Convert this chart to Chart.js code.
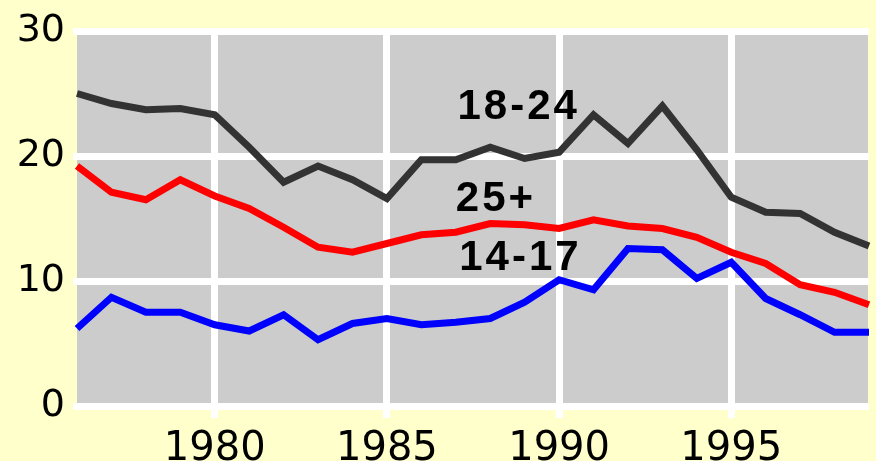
<!DOCTYPE html>
<html>
<head>
<meta charset="utf-8">
<script src="https://cdn.jsdelivr.net/npm/chart.js@4/dist/chart.umd.min.js"></script>
<style>
    html, body { margin: 0; padding: 0; background: #ffffcc; }
    #wrap { width: 876px; height: 461px; }
</style>
</head>
<body>
<div id="wrap"><canvas id="chart"></canvas></div>
<script>
// Data
const years = [1976, 1977, 1978, 1979, 1980, 1981, 1982, 1983, 1984, 1985, 1986, 1987,
               1988, 1989, 1990, 1991, 1992, 1993, 1994, 1995, 1996, 1997, 1998, 1999];
const age18to24 = [25.0, 24.2, 23.7, 23.8, 23.3, 20.7, 17.9, 19.2, 18.1, 16.6, 19.7, 19.7,
                   20.7, 19.8, 20.3, 23.3, 21.0, 24.0, 20.5, 16.7, 15.5, 15.4, 13.9, 12.8];
const age25plus = [19.2, 17.1, 16.5, 18.1, 16.8, 15.8, 14.3, 12.7, 12.3, 13.0, 13.7, 13.9,
                   14.6, 14.5, 14.2, 14.9, 14.4, 14.2, 13.5, 12.3, 11.4, 9.7, 9.1, 8.1];
const age14to17 = [6.2, 8.7, 7.5, 7.5, 6.5, 6.0, 7.3, 5.3, 6.6, 7.0, 6.5, 6.7,
                   7.0, 8.3, 10.1, 9.3, 12.6, 12.5, 10.2, 11.5, 8.6, 7.3, 5.9, 5.9];
const xTickLabels = [1980, 1985, 1990, 1995];
const yTickLabels = [0, 10, 20, 30];
const seriesNames = ['18-24', '25+', '14-17'];

// where the series names sit, in data units
const nameSpots = [
    { x: 1987.05, y: 23.9 },
    { x: 1987.0, y: 16.5 },
    { x: 1987.1, y: 11.8 }
];

const toPoints = (vals) => vals.map((v, i) => ({ x: years[i], y: v }));

// gray plot background
const plotBackground = {
    id: 'plotBackground',
    beforeDraw(chart) {
        const { ctx, chartArea } = chart;
        ctx.save();
        ctx.fillStyle = '#cccccc';
        ctx.fillRect(chartArea.left, chartArea.top - 3, chartArea.right - chartArea.left - 1, chartArea.bottom - chartArea.top + 6);
        ctx.restore();
    }
};

// series names drawn on the plot
const seriesNameLabels = {
    id: 'seriesNameLabels',
    afterDatasetsDraw(chart) {
        const { ctx, scales } = chart;
        ctx.save();
        ctx.font = 'bold 42px "Liberation Sans", Arial, sans-serif';
        ctx.letterSpacing = '3px';
        ctx.fillStyle = '#000000';
        ctx.textAlign = 'left';
        ctx.textBaseline = 'middle';
        seriesNames.forEach((name, i) => {
            ctx.fillText(name, scales.x.getPixelForValue(nameSpots[i].x), scales.y.getPixelForValue(nameSpots[i].y));
        });
        ctx.restore();
    }
};

new Chart(document.getElementById('chart'), {
    type: 'line',
    data: {
        datasets: [
            { label: seriesNames[0], data: toPoints(age18to24), borderColor: '#333333' },
            { label: seriesNames[1], data: toPoints(age25plus), borderColor: '#ff0000' },
            { label: seriesNames[2], data: toPoints(age14to17), borderColor: '#0000ff' }
        ]
    },
    options: {
        responsive: true,
        maintainAspectRatio: false,
        animation: false,
        clip: false,
        elements: {
            line: { borderWidth: 7, tension: 0, borderCapStyle: 'butt', borderJoinStyle: 'miter' },
            point: { radius: 0 }
        },
        layout: { padding: { top: 31, right: 7, left: 0, bottom: 0 } },
        plugins: {
            legend: { display: false },
            tooltip: { enabled: false }
        },
        scales: {
            x: {
                type: 'linear',
                min: years[0],
                max: years[years.length - 1],
                afterBuildTicks: (scale) => { scale.ticks = xTickLabels.map(v => ({ value: v })); },
                afterFit: (scale) => { scale.height = 55; },
                border: { display: false },
                grid: { color: '#ffffff', lineWidth: 7, tickLength: 12, drawOnChartArea: true },
                ticks: {
                    color: '#000000',
                    padding: 8,
                    maxRotation: 0,
                    font: { family: '"DejaVu Sans", sans-serif', size: 40 },
                    callback: (v) => String(v)
                }
            },
            y: {
                min: 0,
                max: 30,
                afterBuildTicks: (scale) => { scale.ticks = yTickLabels.map(v => ({ value: v })); },
                afterFit: (scale) => { scale.width = 77; },
                border: { display: false },
                grid: { color: '#ffffff', lineWidth: 7, tickLength: 4 },
                ticks: {
                    color: '#000000',
                    padding: 8,
                    font: { family: '"DejaVu Sans", sans-serif', size: 38 }
                }
            }
        }
    },
    plugins: [plotBackground, seriesNameLabels]
});
</script>
</body>
</html>
